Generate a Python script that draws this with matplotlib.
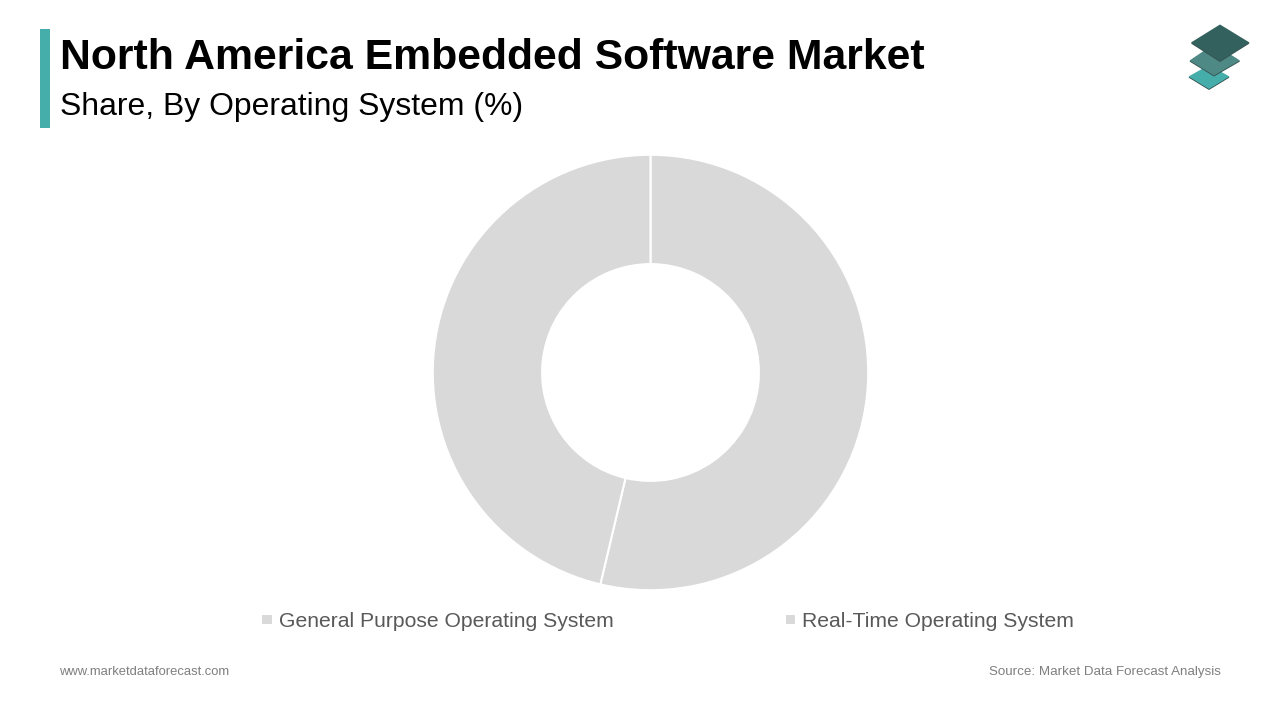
import matplotlib
matplotlib.use('Agg')
import matplotlib.pyplot as plt
from matplotlib.patches import Polygon, Rectangle

plt.rcParams['font.family'] = ['Liberation Sans', 'DejaVu Sans']

categories = ['General Purpose Operating System', 'Real-Time Operating System']
shares = [53.7, 46.3]
slice_colors = ['#d9d9d9', '#d9d9d9']

title = 'North America Embedded Software Market'
subtitle = 'Share, By Operating System (%)'
site = 'www.marketdataforecast.com'
source = 'Source: Market Data Forecast Analysis'

W, H = 1280, 720
fig = plt.figure(figsize=(W / 100, H / 100), dpi=100, facecolor='white')

# overlay in pixel coords for header, footer, logo
bg = fig.add_axes([0, 0, 1, 1])
bg.set_xlim(0, W)
bg.set_ylim(H, 0)
bg.axis('off')

bg.add_patch(Rectangle((40, 29), 10, 99, color='#45aeab', lw=0))
bg.text(60, 58, title, fontsize=30.77, fontweight='bold', color='black', va='center')
bg.text(60, 107, subtitle, fontsize=22.95, color='black', va='center')
bg.text(59, 675, site, fontsize=9.4, color='#7f7f7f', va='baseline')
bg.text(1221, 675, source, fontsize=9.67, color='#7f7f7f', va='baseline', ha='right')

# logo, bottom layer first
layers = [
    ([(1209, 65), (1229.5, 76.5), (1209, 89), (1188.5, 76.5)], '#45aeab'),
    ([(1214, 44), (1240, 60.5), (1214, 75.5), (1189.5, 60.5)], '#4f8985'),
    ([(1220, 24.5), (1249.5, 42.5), (1220, 61), (1191, 42.5)], '#33615e'),
]
for pts, col in layers:
    shadow = [(x, y + 1) for x, y in pts]
    bg.add_patch(Polygon(shadow, closed=True, color='#35504f', lw=0))
    bg.add_patch(Polygon(pts, closed=True, color=col, lw=0))

# donut
cx, cy, R = 650.5, 372.5, 217.7
ax = fig.add_axes([(cx - R) / W, 1 - (cy + R) / H, 2 * R / W, 2 * R / H])
wedges, _ = ax.pie(shares, colors=slice_colors, startangle=90, counterclock=False,
                   radius=1.0, wedgeprops=dict(width=0.502, edgecolor='white', linewidth=1.5))
ax.set_xlim(-1, 1)
ax.set_ylim(-1, 1)

fig.legend(wedges, categories, loc='center', bbox_to_anchor=(667.5 / W, 1 - 621.5 / H), ncol=2,
           frameon=False, fontsize=15.25, labelcolor='#595959', handlelength=0.55, handleheight=0.45,
           handletextpad=0.27, columnspacing=8.09)

fig.savefig('out.png', dpi=100)
